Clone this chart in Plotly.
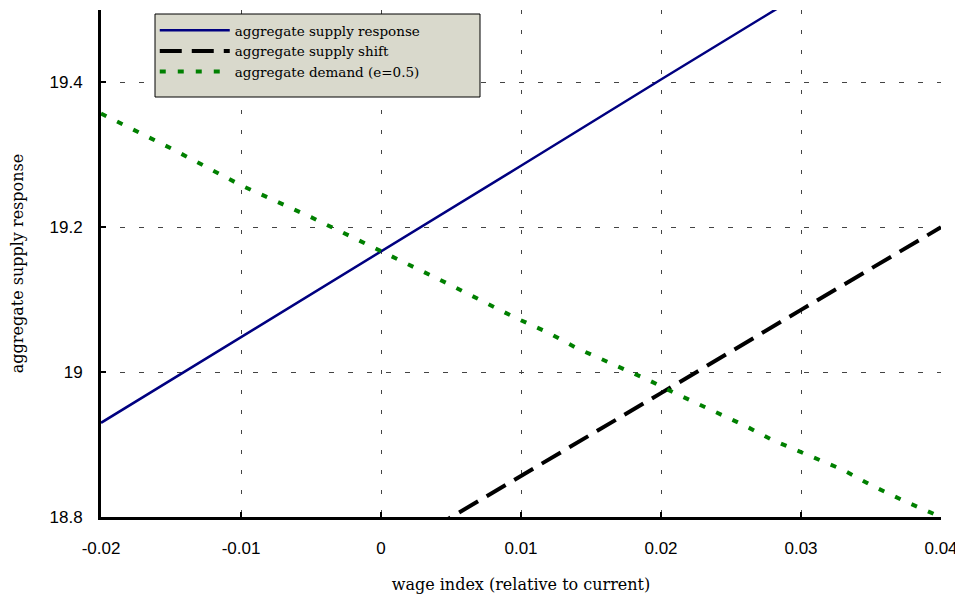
import plotly.graph_objects as go

# Data
supply_x = [-0.02, -0.01, 0.0, 0.01, 0.02, 0.03, 0.04]
supply_response = [18.930, 19.048, 19.167, 19.285, 19.404, 19.522, 19.640]
supply_shift = [18.514, 18.628, 18.743, 18.857, 18.971, 19.086, 19.200]

demand_x = [-0.02, -0.015, -0.01, -0.005, 0.0, 0.005, 0.0095, 0.012, 0.014, 0.0165,
            0.019, 0.021, 0.0235, 0.026, 0.028, 0.0305, 0.033, 0.035, 0.0375, 0.04]
demand_y = [19.357, 19.309, 19.258, 19.214, 19.167, 19.120, 19.076, 19.054, 19.033, 19.012,
            18.990, 18.971, 18.949, 18.926, 18.906, 18.886, 18.865, 18.844, 18.821, 18.800]

x_ticks = [-0.02, -0.01, 0, 0.01, 0.02, 0.03, 0.04]
x_ticktext = ["-0.02", "-0.01", "0", "0.01", "0.02", "0.03", "0.04"]
y_ticks = [18.8, 19.0, 19.2, 19.4]
y_ticktext = ["18.8", "19", "19.2", "19.4"]

serif = "DejaVu Serif, serif"
sans = "Liberation Sans, Arial, sans-serif"

fig = go.Figure()
fig.add_trace(go.Scatter(x=supply_x, y=supply_response, mode="lines",
                         name="aggregate supply response",
                         line=dict(color="#000080", width=2.5)))
fig.add_trace(go.Scatter(x=supply_x, y=supply_shift, mode="lines",
                         name="aggregate supply shift",
                         line=dict(color="black", width=4, dash="22px,10px")))
fig.add_trace(go.Scatter(x=demand_x, y=demand_y, mode="lines",
                         name="aggregate demand (e=0.5)",
                         line=dict(color="#008000", width=4, dash="6px,12px")))

# legend background box (wider than plotly's auto-sized legend)
fig.add_shape(type="rect", xref="paper", yref="paper",
              x0=0.0643, x1=0.4512, y0=0.8284, y1=0.9921,
              fillcolor="#d9d9cc", line=dict(color="black", width=1),
              layer="above")

fig.update_layout(
    width=955, height=596,
    margin=dict(l=93, r=22, t=2, b=87),
    paper_bgcolor="white", plot_bgcolor="white",
    showlegend=True,
    legend=dict(x=0.064, y=0.99, xanchor="left", yanchor="top",
                bgcolor="rgba(0,0,0,0)", borderwidth=0,
                font=dict(family=serif, size=13.5, color="black"),
                itemwidth=70, tracegroupgap=0),
    font=dict(family=sans, color="black"),
)
fig.update_xaxes(
    range=[-0.02, 0.04], tickvals=x_ticks, ticktext=x_ticktext,
    showline=True, linecolor="black", linewidth=3, mirror=False,
    ticks="inside", ticklen=5, tickwidth=2, tickcolor="black",
    ticklabelstandoff=14, automargin=False,
    tickfont=dict(family=sans, size=17, color="black"),
    showgrid=True, gridcolor="#444444", gridwidth=1, griddash="4px,16px",
    zeroline=False,
    title=dict(text="wage index (relative to current)",
               font=dict(family=serif, size=16, color="black"), standoff=22),
)
fig.update_yaxes(
    range=[18.8, 19.5], tickvals=y_ticks, ticktext=y_ticktext,
    showline=True, linecolor="black", linewidth=3, mirror=False,
    ticks="inside", ticklen=5, tickwidth=2, tickcolor="black",
    ticklabelstandoff=12, automargin=False,
    tickfont=dict(family=sans, size=17, color="black"),
    showgrid=True, gridcolor="#444444", gridwidth=1, griddash="5px,14px",
    zeroline=False,
    title=dict(text="aggregate supply response",
               font=dict(family=serif, size=16, color="black"), standoff=23),
)

fig.write_html("out.html")
